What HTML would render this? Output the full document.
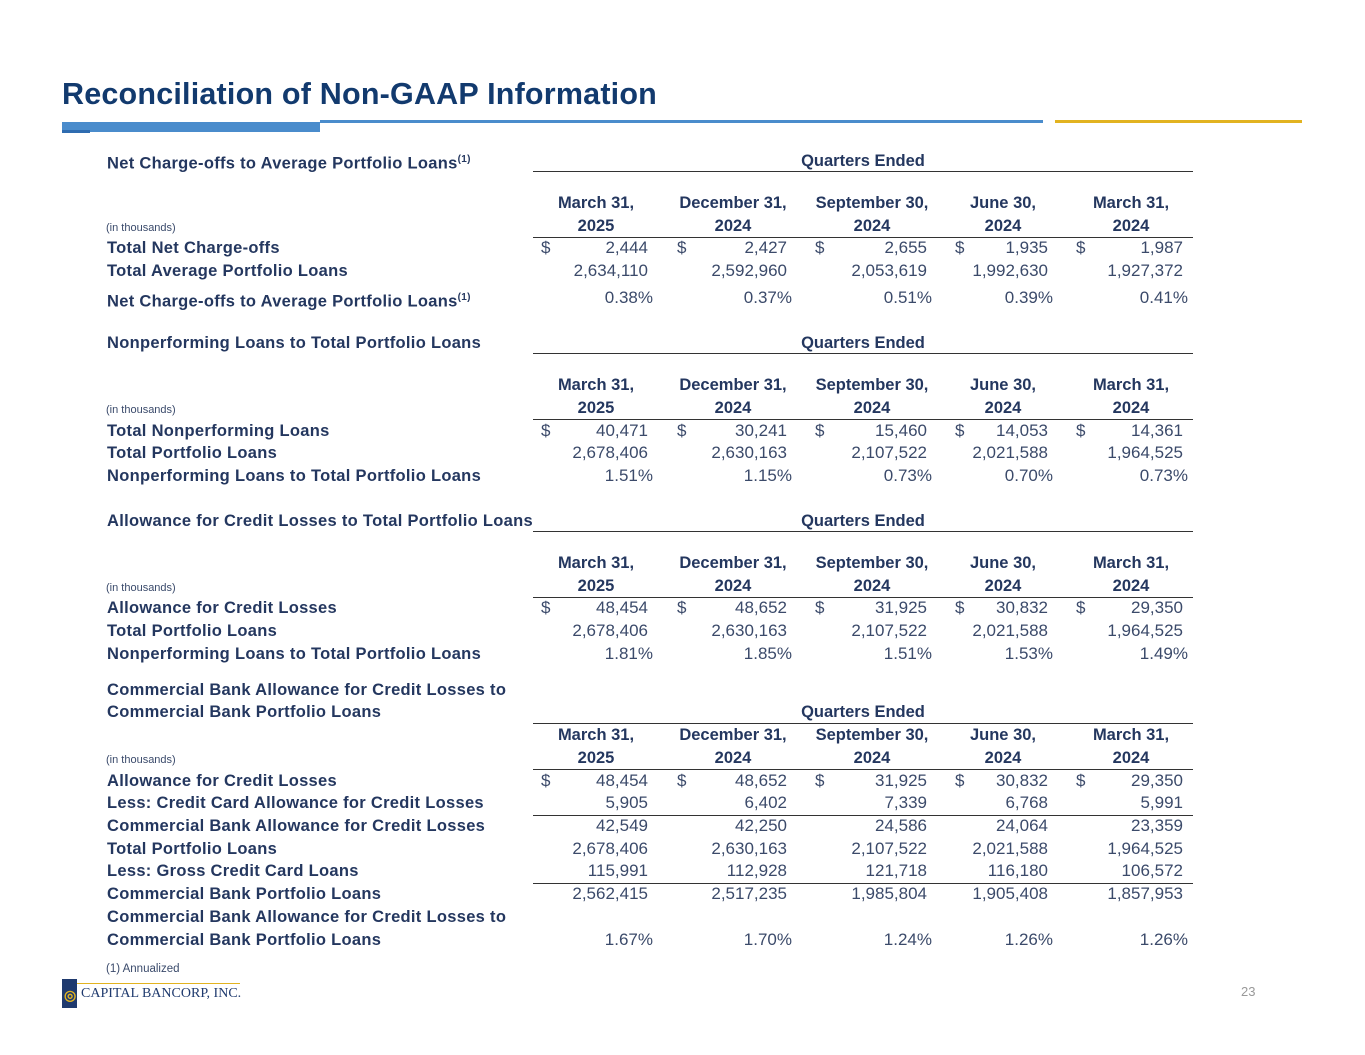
<!DOCTYPE html>
<html><head><meta charset="utf-8"><style>
body{margin:0;width:1365px;height:1055px;background:#fff;position:relative;overflow:hidden;font-family:"Liberation Sans",Arial,sans-serif;}
div{position:absolute;white-space:nowrap;}
.t{left:62px;top:77px;font-size:30.5px;font-weight:bold;color:#123a6e;letter-spacing:0.2px;}
.l{left:107px;font-size:16.5px;font-weight:bold;color:#24375f;line-height:20px;letter-spacing:0.3px;}
.s{left:106px;font-size:11px;color:#3a4a6b;line-height:14px;}
.v{font-size:17px;color:#3b4a6a;line-height:20px;text-align:right;width:130px;}
.d{font-size:17px;color:#3b4a6a;line-height:20px;}
.h{font-size:16.5px;font-weight:bold;color:#24375f;line-height:23px;text-align:center;width:140px;}
.q{left:533px;width:660px;text-align:center;font-size:16.5px;font-weight:bold;color:#24375f;line-height:20px;}
.ln{left:533px;width:660px;height:0;border-top:1.5px solid #333;}
.c1{left:518px}.c2{left:657px}.c3{left:797px}.c4{left:918px}.c5{left:1053px}
.p1{left:523px}.p2{left:662px}.p3{left:802px}.p4{left:923px}.p5{left:1058px}
.h1{left:526px}.h2{left:663px}.h3{left:802px}.h4{left:933px}.h5{left:1061px}
.d1{left:541px}.d2{left:677px}.d3{left:815px}.d4{left:955px}.d5{left:1076px}
sup{font-size:10px;}
</style></head><body>
<div class="t">Reconciliation of Non-GAAP Information</div>
<div style="left:62px;top:122px;width:258px;height:10px;background:#4a8ccc"></div>
<div style="left:62px;top:130px;width:28px;height:3px;background:#2f6cb0"></div>
<div style="left:320px;top:120px;width:723px;height:3px;background:#4a8ccc"></div>
<div style="left:1055px;top:120px;width:247px;height:3px;background:#e2b320"></div>

<!-- Section 1 -->
<div class="l" style="top:150px">Net Charge-offs to Average Portfolio Loans<sup>(1)</sup></div>
<div class="q" style="top:151px">Quarters Ended</div>
<div class="ln" style="top:171px"></div>
<div class="h h1" style="top:192px">March 31,<br>2025</div>
<div class="h h2" style="top:192px">December 31,<br>2024</div>
<div class="h h3" style="top:192px">September 30,<br>2024</div>
<div class="h h4" style="top:192px">June 30,<br>2024</div>
<div class="h h5" style="top:192px">March 31,<br>2024</div>
<div class="s" style="top:221px">(in thousands)</div>
<div class="ln" style="top:237px"></div>
<div class="l" style="top:238px">Total Net Charge-offs</div>
<div class="d d1" style="top:238px">$</div><div class="d d2" style="top:238px">$</div><div class="d d3" style="top:238px">$</div><div class="d d4" style="top:238px">$</div><div class="d d5" style="top:238px">$</div>
<div class="v c1" style="top:238px">2,444</div><div class="v c2" style="top:238px">2,427</div><div class="v c3" style="top:238px">2,655</div><div class="v c4" style="top:238px">1,935</div><div class="v c5" style="top:238px">1,987</div>
<div class="l" style="top:261px">Total Average Portfolio Loans</div>
<div class="v c1" style="top:261px">2,634,110</div><div class="v c2" style="top:261px">2,592,960</div><div class="v c3" style="top:261px">2,053,619</div><div class="v c4" style="top:261px">1,992,630</div><div class="v c5" style="top:261px">1,927,372</div>
<div class="l" style="top:288px">Net Charge-offs to Average Portfolio Loans<sup>(1)</sup></div>
<div class="v p1" style="top:288px">0.38%</div><div class="v p2" style="top:288px">0.37%</div><div class="v p3" style="top:288px">0.51%</div><div class="v p4" style="top:288px">0.39%</div><div class="v p5" style="top:288px">0.41%</div>

<!-- Section 2 -->
<div class="l" style="top:333px">Nonperforming Loans to Total Portfolio Loans</div>
<div class="q" style="top:333px">Quarters Ended</div>
<div class="ln" style="top:353px"></div>
<div class="h h1" style="top:374px">March 31,<br>2025</div>
<div class="h h2" style="top:374px">December 31,<br>2024</div>
<div class="h h3" style="top:374px">September 30,<br>2024</div>
<div class="h h4" style="top:374px">June 30,<br>2024</div>
<div class="h h5" style="top:374px">March 31,<br>2024</div>
<div class="s" style="top:403px">(in thousands)</div>
<div class="ln" style="top:419px"></div>
<div class="l" style="top:421px">Total Nonperforming Loans</div>
<div class="d d1" style="top:421px">$</div><div class="d d2" style="top:421px">$</div><div class="d d3" style="top:421px">$</div><div class="d d4" style="top:421px">$</div><div class="d d5" style="top:421px">$</div>
<div class="v c1" style="top:421px">40,471</div><div class="v c2" style="top:421px">30,241</div><div class="v c3" style="top:421px">15,460</div><div class="v c4" style="top:421px">14,053</div><div class="v c5" style="top:421px">14,361</div>
<div class="l" style="top:443px">Total Portfolio Loans</div>
<div class="v c1" style="top:443px">2,678,406</div><div class="v c2" style="top:443px">2,630,163</div><div class="v c3" style="top:443px">2,107,522</div><div class="v c4" style="top:443px">2,021,588</div><div class="v c5" style="top:443px">1,964,525</div>
<div class="l" style="top:466px">Nonperforming Loans to Total Portfolio Loans</div>
<div class="v p1" style="top:466px">1.51%</div><div class="v p2" style="top:466px">1.15%</div><div class="v p3" style="top:466px">0.73%</div><div class="v p4" style="top:466px">0.70%</div><div class="v p5" style="top:466px">0.73%</div>

<!-- Section 3 -->
<div class="l" style="top:511px">Allowance for Credit Losses to Total Portfolio Loans</div>
<div class="q" style="top:511px">Quarters Ended</div>
<div class="ln" style="top:531px"></div>
<div class="h h1" style="top:552px">March 31,<br>2025</div>
<div class="h h2" style="top:552px">December 31,<br>2024</div>
<div class="h h3" style="top:552px">September 30,<br>2024</div>
<div class="h h4" style="top:552px">June 30,<br>2024</div>
<div class="h h5" style="top:552px">March 31,<br>2024</div>
<div class="s" style="top:581px">(in thousands)</div>
<div class="ln" style="top:597px"></div>
<div class="l" style="top:598px">Allowance for Credit Losses</div>
<div class="d d1" style="top:598px">$</div><div class="d d2" style="top:598px">$</div><div class="d d3" style="top:598px">$</div><div class="d d4" style="top:598px">$</div><div class="d d5" style="top:598px">$</div>
<div class="v c1" style="top:598px">48,454</div><div class="v c2" style="top:598px">48,652</div><div class="v c3" style="top:598px">31,925</div><div class="v c4" style="top:598px">30,832</div><div class="v c5" style="top:598px">29,350</div>
<div class="l" style="top:621px">Total Portfolio Loans</div>
<div class="v c1" style="top:621px">2,678,406</div><div class="v c2" style="top:621px">2,630,163</div><div class="v c3" style="top:621px">2,107,522</div><div class="v c4" style="top:621px">2,021,588</div><div class="v c5" style="top:621px">1,964,525</div>
<div class="l" style="top:644px">Nonperforming Loans to Total Portfolio Loans</div>
<div class="v p1" style="top:644px">1.81%</div><div class="v p2" style="top:644px">1.85%</div><div class="v p3" style="top:644px">1.51%</div><div class="v p4" style="top:644px">1.53%</div><div class="v p5" style="top:644px">1.49%</div>

<!-- Section 4 -->
<div class="l" style="top:680px">Commercial Bank Allowance for Credit Losses to</div>
<div class="l" style="top:702px">Commercial Bank Portfolio Loans</div>
<div class="q" style="top:702px">Quarters Ended</div>
<div class="ln" style="top:723px"></div>
<div class="h h1" style="top:724px">March 31,<br>2025</div>
<div class="h h2" style="top:724px">December 31,<br>2024</div>
<div class="h h3" style="top:724px">September 30,<br>2024</div>
<div class="h h4" style="top:724px">June 30,<br>2024</div>
<div class="h h5" style="top:724px">March 31,<br>2024</div>
<div class="s" style="top:753px">(in thousands)</div>
<div class="ln" style="top:769px"></div>
<div class="l" style="top:771px">Allowance for Credit Losses</div>
<div class="d d1" style="top:771px">$</div><div class="d d2" style="top:771px">$</div><div class="d d3" style="top:771px">$</div><div class="d d4" style="top:771px">$</div><div class="d d5" style="top:771px">$</div>
<div class="v c1" style="top:771px">48,454</div><div class="v c2" style="top:771px">48,652</div><div class="v c3" style="top:771px">31,925</div><div class="v c4" style="top:771px">30,832</div><div class="v c5" style="top:771px">29,350</div>
<div class="l" style="top:793px">Less: Credit Card Allowance for Credit Losses</div>
<div class="v c1" style="top:793px">5,905</div><div class="v c2" style="top:793px">6,402</div><div class="v c3" style="top:793px">7,339</div><div class="v c4" style="top:793px">6,768</div><div class="v c5" style="top:793px">5,991</div>
<div class="ln" style="top:815px;border-top-width:1px"></div>
<div class="l" style="top:816px">Commercial Bank Allowance for Credit Losses</div>
<div class="v c1" style="top:816px">42,549</div><div class="v c2" style="top:816px">42,250</div><div class="v c3" style="top:816px">24,586</div><div class="v c4" style="top:816px">24,064</div><div class="v c5" style="top:816px">23,359</div>
<div class="l" style="top:839px">Total Portfolio Loans</div>
<div class="v c1" style="top:839px">2,678,406</div><div class="v c2" style="top:839px">2,630,163</div><div class="v c3" style="top:839px">2,107,522</div><div class="v c4" style="top:839px">2,021,588</div><div class="v c5" style="top:839px">1,964,525</div>
<div class="l" style="top:861px">Less: Gross Credit Card Loans</div>
<div class="v c1" style="top:861px">115,991</div><div class="v c2" style="top:861px">112,928</div><div class="v c3" style="top:861px">121,718</div><div class="v c4" style="top:861px">116,180</div><div class="v c5" style="top:861px">106,572</div>
<div class="ln" style="top:883px;border-top-width:1px"></div>
<div class="l" style="top:884px">Commercial Bank Portfolio Loans</div>
<div class="v c1" style="top:884px">2,562,415</div><div class="v c2" style="top:884px">2,517,235</div><div class="v c3" style="top:884px">1,985,804</div><div class="v c4" style="top:884px">1,905,408</div><div class="v c5" style="top:884px">1,857,953</div>
<div class="l" style="top:907px">Commercial Bank Allowance for Credit Losses to</div>
<div class="l" style="top:930px">Commercial Bank Portfolio Loans</div>
<div class="v p1" style="top:930px">1.67%</div><div class="v p2" style="top:930px">1.70%</div><div class="v p3" style="top:930px">1.24%</div><div class="v p4" style="top:930px">1.26%</div><div class="v p5" style="top:930px">1.26%</div>

<div class="s" style="top:962px;font-size:11.5px">(1) Annualized</div>
<div style="left:62px;top:979px;width:15px;height:29px;background:#1f3a6e"></div>
<div style="left:64px;top:987px;font-size:14px;color:#e2b320;font-weight:bold">&#x25CE;</div>
<div style="left:77px;top:983px;width:163px;height:1px;background:#e2b320"></div>
<div style="left:81px;top:986px;font-family:'Liberation Serif',serif;font-size:14px;color:#1f3a6e">CAPITAL BANCORP, INC.</div>
<div style="left:1241px;top:984px;font-size:13px;color:#999">23</div>
</body></html>
